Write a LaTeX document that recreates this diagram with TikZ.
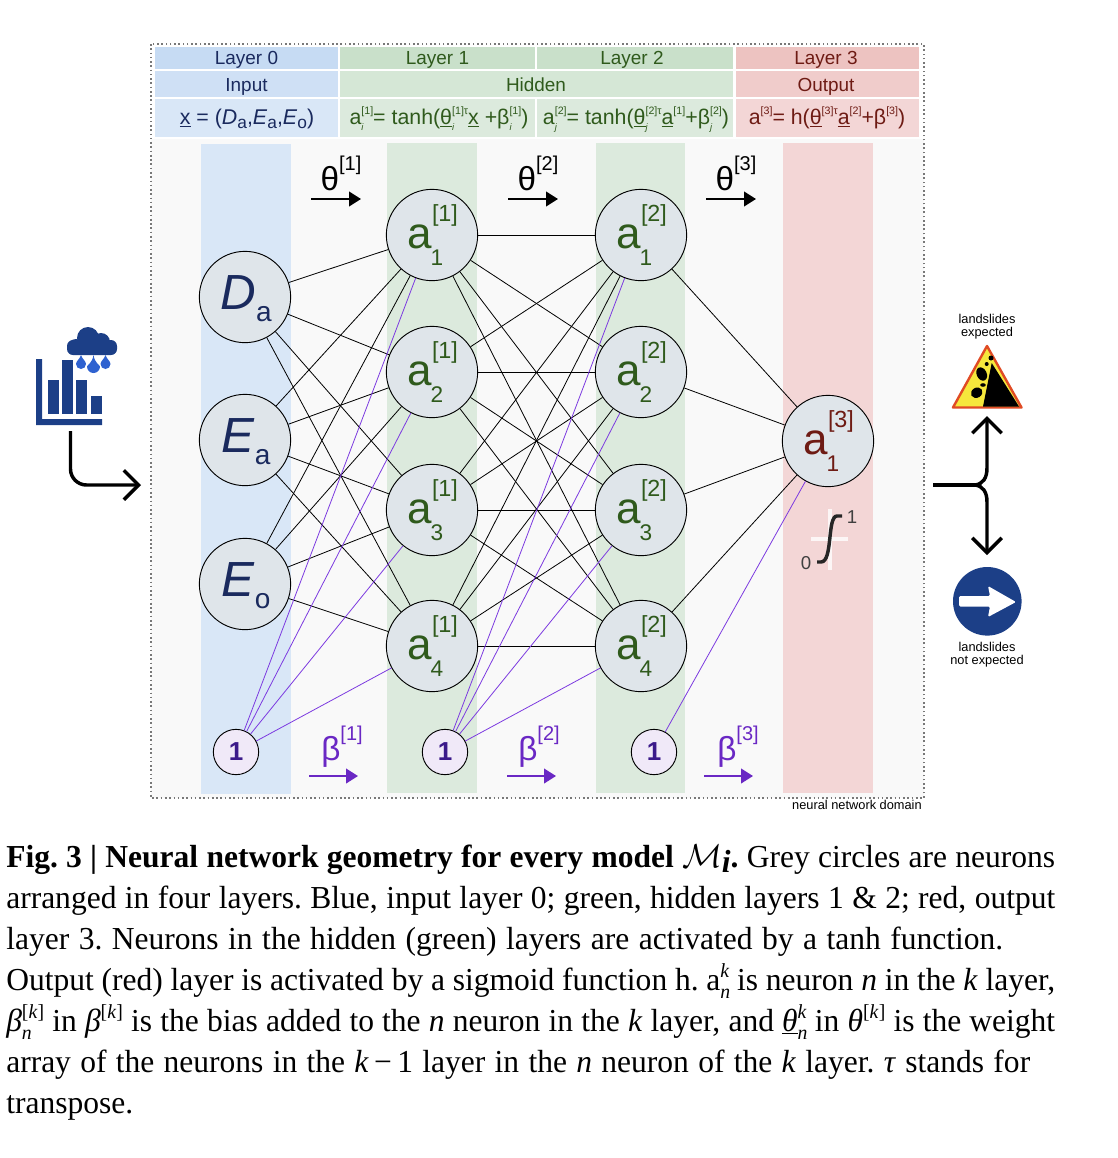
\documentclass[tikz,border=0pt]{standalone}
\usepackage{fontspec}
\setmainfont{Liberation Sans}
\newfontfamily\capfont[FakeStretch=0.985]{Liberation Serif}
\usetikzlibrary{arrows.meta}
\frenchspacing
\definecolor{navy}{HTML}{1A2A5E}
\definecolor{dgreen}{HTML}{2F5A1C}
\definecolor{dred}{HTML}{6E1B14}
\definecolor{purp}{HTML}{7C3AE0}
\definecolor{dpurp}{HTML}{6A28C4}
\definecolor{iconblue}{HTML}{1C3F87}
\definecolor{dropblue}{HTML}{2F62D0}
\definecolor{neurongrey}{HTML}{DFE5EA}
\definecolor{biasfill}{HTML}{F0E9F8}
\definecolor{biastext}{HTML}{3B1A8A}
\definecolor{domainbg}{HTML}{F9F9F9}
\definecolor{framecol}{HTML}{787878}
\definecolor{signyellow}{HTML}{F6E83C}
\definecolor{signred}{HTML}{E04B24}
\definecolor{bA}{HTML}{C6DBF3}\definecolor{bB}{HTML}{CFE0F5}\definecolor{bC}{HTML}{D9E7F7}
\definecolor{gA}{HTML}{C9E0CA}\definecolor{gB}{HTML}{D5E7D6}\definecolor{gC}{HTML}{DCEADD}
\definecolor{rA}{HTML}{EDC3C1}\definecolor{rB}{HTML}{F0CCCB}\definecolor{rC}{HTML}{F3D6D6}
\newcommand\neu[3]{\color{#1}\rule{0pt}{20pt}\smash{\fontsize{33}{33}\selectfont a\rlap{\raisebox{20pt}{\fontsize{17.5}{17.5}\selectfont[#3]}}\rlap{\kern-1pt\raisebox{-13pt}{\fontsize{17}{17}\selectfont #2}}\hphantom{a}}}
\newcommand\inp[2]{\color{navy}\rule{0pt}{18pt}\smash{\kern1.5pt\fontsize{37}{37}\selectfont\textit{#1}\raisebox{-9pt}{\fontsize{21}{21}\selectfont #2}}}
\newcommand\hs[2]{\rlap{\raisebox{7.5pt}{\fontsize{8}{8}\selectfont #1}}\rlap{\raisebox{-5pt}{\fontsize{7}{7}\selectfont\itshape #2}}\hphantom{\fontsize{8}{8}\selectfont #1}}
\newcommand\cs[2]{\rlap{\raisebox{9.5pt}{\fontsize{15}{15}\selectfont #1}}\rlap{\raisebox{-6pt}{\fontsize{15}{15}\selectfont #2}}\hphantom{\fontsize{15}{15}\selectfont #1}}
\newcommand\gk[3]{{\color{#1}\fontsize{25}{25}\selectfont #2\raisebox{15pt}{\fontsize{15}{15}\selectfont[#3]}}}
\tikzset{
  x=0.75pt,y=-0.75pt,
  neuron/.style={circle,draw=black,line width=0.7pt,fill=neurongrey,minimum size=68.5pt,inner sep=0pt},
  bias/.style={circle,draw=black,line width=0.7pt,fill=biasfill,minimum size=34pt,inner sep=0pt,text=biastext,font=\bfseries\fontsize{19.5}{19.5}\selectfont},
  conn/.style={line width=0.6pt,draw=black},
  bconn/.style={line width=0.6pt,draw=purp},
  hdr/.style={anchor=base,inner sep=0pt,font=\fontsize{14.2}{14.2}\selectfont},
  frm/.style={anchor=base,inner sep=0pt,font=\fontsize{16}{16}\selectfont},
  small/.style={anchor=base,inner sep=0pt,font=\fontsize{9.6}{9.6}\selectfont},
  capline/.style={anchor=base west,inner sep=0pt,font=\capfont\fontsize{24}{24}\selectfont},
  bigarrow/.style={line width=2.6pt,draw=black,-{Straight Barb[length=11pt,width=22pt,line width=2.6pt]}},
  wgt/.style={line width=1.5pt,-{Triangle[length=9pt,width=11pt]}},
}
\begin{document}
\begin{tikzpicture}
\useasboundingbox (0,0) rectangle (1118,1158);
% domain background and frame
\fill[domainbg] (151,139) rectangle (924,798);
\draw[framecol,line width=1.1pt,dash pattern=on 1.2pt off 2pt] (151,44) rectangle (924,798);
% header cells
\fill[bA] (155,47) rectangle (338,69);
\fill[gA] (340,47) rectangle (535,69);
\fill[gA] (537,47) rectangle (733,69);
\fill[rA] (736,47) rectangle (919,69);
\fill[bB] (155,71) rectangle (338,97);
\fill[gB] (340,71) rectangle (733,97);
\fill[rB] (736,71) rectangle (919,97);
\fill[bC] (155,99) rectangle (338,137);
\fill[gC] (340,99) rectangle (535,137);
\fill[gC] (537,99) rectangle (733,137);
\fill[rC] (736,99) rectangle (919,137);
\node[hdr,text=navy] (l0) at (246.5,64) {Layer 0};
\node[hdr,text=dgreen] (l1) at (437.5,64) {Layer 1};
\node[hdr,text=dgreen] (l2) at (632,64) {Layer 2};
\node[hdr,text=dred] (l3) at (826,64) {Layer 3};
\node[hdr,text=navy] (inputlab) at (246.5,91) {Input};
\node[hdr,text=dgreen] (hiddenlab) at (536,91) {Hidden};
\node[hdr,text=dred] (outputlab) at (826,91) {Output};
\node[frm,text=navy] (f0) at (247,124) {\underline{x} = (\textit{D}\raisebox{-3pt}{\fontsize{13}{13}\selectfont a},\textit{E}\raisebox{-3pt}{\fontsize{13}{13}\selectfont a},\textit{E}\raisebox{-3pt}{\fontsize{13}{13}\selectfont o})};
\node[frm,text=dgreen] (f1) at (439,124) {a\hs{[1]}{i}= tanh(\underline{θ}\hs{[1]τ}{i}\underline{x} +β\hs{[1]}{i})};
\node[frm,text=dgreen] (f2) at (636,124) {a\hs{[2]}{j}= tanh(\underline{θ}\hs{[2]τ}{j}\underline{a}\hs{[1]}{}+β\hs{[2]}{j})};
\node[frm,text=dred] (f3) at (827,124) {a\hs{[3]}{}= h(\underline{θ}\hs{[3]τ}{}\underline{a}\hs{[2]}{}+β\hs{[3]}{})};
% bands
\fill[bC] (201,144) rectangle (291,794);
\fill[gC] (387,143) rectangle (477,793);
\fill[gC] (596,143) rectangle (685,793);
\fill[rC] (783,143) rectangle (873,793);
% theta and beta labels
\node[anchor=base,inner sep=0pt] (t1) at (341,190) {\gk{black}{θ}{1}};
\node[anchor=base,inner sep=0pt] (t2) at (538,190) {\gk{black}{θ}{2}};
\node[anchor=base,inner sep=0pt] (t3) at (736,190) {\gk{black}{θ}{3}};
\node[anchor=base,inner sep=0pt] (b1) at (342,760) {\gk{dpurp}{β}{1}};
\node[anchor=base,inner sep=0pt] (b2) at (539,760) {\gk{dpurp}{β}{2}};
\node[anchor=base,inner sep=0pt] (b3) at (738,760) {\gk{dpurp}{β}{3}};
\coordinate (ta1) at (311,199); \coordinate (tb1) at (361,199);
\coordinate (ta2) at (508,199); \coordinate (tb2) at (558,199);
\coordinate (ta3) at (706,199); \coordinate (tb3) at (756,199);
\coordinate (ba1) at (309,776); \coordinate (bb1) at (358,776);
\coordinate (ba2) at (507,776); \coordinate (bb2) at (556,776);
\coordinate (ba3) at (704,776); \coordinate (bb3) at (753,776);
\foreach \i in {1,2,3}{
  \draw[wgt,black] (ta\i) -- (tb\i);
  \draw[wgt,dpurp] (ba\i) -- (bb\i);
}
% neurons
\node[neuron] (Da) at (245,297) {\inp{D}{a}};
\node[neuron] (Ea) at (245,440) {\inp{E}{a}};
\node[neuron] (Eo) at (245,584) {\inp{E}{o}};
\node[neuron] (A1) at (432,235) {\neu{dgreen}{1}{1}};
\node[neuron] (A2) at (432,372) {\neu{dgreen}{2}{1}};
\node[neuron] (A3) at (432,510) {\neu{dgreen}{3}{1}};
\node[neuron] (A4) at (432,646) {\neu{dgreen}{4}{1}};
\node[neuron] (B1) at (641,235) {\neu{dgreen}{1}{2}};
\node[neuron] (B2) at (641,372) {\neu{dgreen}{2}{2}};
\node[neuron] (B3) at (641,510) {\neu{dgreen}{3}{2}};
\node[neuron] (B4) at (641,646) {\neu{dgreen}{4}{2}};
\node[neuron] (C1) at (828,441) {\neu{dred}{1}{3}};
\node[bias] (S0) at (236,752) {1};
\node[bias] (S1) at (445,752) {1};
\node[bias] (S2) at (654,752) {1};
% connectors
\foreach \i in {Da,Ea,Eo}{\foreach \j in {1,2,3,4}{\draw[conn] (\i) -- (A\j);}}
\foreach \i in {1,2,3,4}{\foreach \j in {1,2,3,4}{\draw[conn] (A\i) -- (B\j);}}
\foreach \i in {1,2,3,4}{\draw[conn] (B\i) -- (C1);}
\foreach \j in {1,2,3,4}{\draw[bconn] (S0) -- (A\j); \draw[bconn] (S1) -- (B\j);}
\draw[bconn] (S2) -- (C1);
% sigmoid
\draw[white,line width=2.6pt,opacity=.8] (830,509) -- (830,570);
\draw[white,line width=2.6pt,opacity=.8] (811,539) -- (848,539);
\draw[black!85,line width=2.6pt] (817,562) -- (821,562) .. controls (833,562) and (827,516) .. (837,516) -- (842,516);
\node[inner sep=0pt,text=black!75,font=\fontsize{14}{14}\selectfont] (sig0) at (806,563) {0};
\node[inner sep=0pt,text=black!75,font=\fontsize{14}{14}\selectfont] (sig1) at (852,517) {1};
% rain/chart icon
\fill[iconblue] (36,359) -- (42,359) -- (42,419) -- (102,419) -- (102,425) -- (36,425) -- cycle;
\fill[iconblue] (48,380) rectangle (59,414);
\fill[iconblue] (62,360) rectangle (73,414);
\fill[iconblue] (76,380) rectangle (87,414);
\fill[iconblue] (91,396) rectangle (102,414);
\fill[iconblue,rounded corners=4.5pt] (67,340) rectangle (117,355);
\fill[iconblue] (88,338) circle[radius=11];
\fill[iconblue] (101,342) circle[radius=9];
\fill[iconblue] (76,347) circle[radius=8];
\foreach \x/\t/\b/\r in {81/355/369/5,93.5/355/373/6.5,105.5/355/369/5}{
  \fill[dropblue] (\x,\t) .. controls (\x+1,\b-10) and (\x+\r,\b-8) .. (\x+\r,\b-\r) arc[start angle=0,end angle=-180,x radius=\r,y radius=-\r] .. controls (\x-\r,\b-8) and (\x-1,\b-10) .. (\x,\t) -- cycle;
}
% big arrows
\coordinate (inA) at (70.5,431); \coordinate (inB) at (70.5,485); \coordinate (inC) at (141,485);
\draw[bigarrow,rounded corners=12pt] (inA) -- (inB) -- (inC);
\coordinate (oA) at (933,485); \coordinate (oB) at (975,485); \coordinate (oU) at (987,416); \coordinate (oD) at (987,555);
\draw[line width=2.6pt] (oA) -- (oB);
\draw[bigarrow] (oB) .. controls (983,484) and (987,478) .. (987,468) -- (oU);
\draw[bigarrow] (oB) .. controls (983,486) and (987,492) .. (987,502) -- (oD);
% warning sign
\fill[signyellow,draw=signred,line width=1.8pt,line join=round] (987,346) -- (1021.5,407.5) -- (953,407.5) -- cycle;
\fill[black] (991.7,363) -- (1019,406.5) -- (983,406.5) -- cycle;
\fill[black,rotate around={25:(981.7,374)}] (981.7,374) ellipse[x radius=5,y radius=7];
\fill[black,rotate around={30:(976.7,392.7)}] (976.7,392.7) ellipse[x radius=6,y radius=5];
\fill[black] (991,358) circle[radius=2.5];
\fill[black] (983,385) ellipse[x radius=2.8,y radius=1.8];
\fill[black] (986.7,364) circle[radius=2];
% blue sign
\fill[iconblue] (987.3,601.3) circle[radius=34.3];
\fill[white,rounded corners=1pt] (959,596) -- (990,596) -- (988,586) -- (1016,602) -- (988,617) -- (990,606.5) -- (959,606.5) -- cycle;
% small labels
\node[small] (e1) at (987,323) {landslides};
\node[small] (e2) at (987,336) {expected};
\node[small] (n1) at (987,651) {landslides};
\node[small] (n2) at (987,664) {not expected};
\node[small,anchor=base east] (nnd) at (922,809) {neural network domain};
% caption
\node[capline] (c1) at (6,867) {\hbox to 786.75pt{\textbf{Fig. 3 | Neural network geometry for every model $\mathcal{M}$\textit{\raisebox{-4pt}{i}}.} Grey circles are neurons}};
\node[capline] (c2) at (6,908) {\hbox to 786.75pt{arranged in four layers. Blue, input layer 0; green, hidden layers 1 \& 2; red, output}};
\node[capline] (c3) at (6,949) {\hbox to 747.75pt{layer 3. Neurons in the hidden (green) layers are activated by a tanh function.}};
\node[capline] (c4) at (6,990) {\hbox to 786.75pt{Output (red) layer is activated by a sigmoid function h. a\cs{\textit{k}}{\textit{n}} is neuron \textit{n} in the \textit{k} layer,}};
\node[capline] (c5) at (6,1031) {\hbox to 786.75pt{\textit{β}\cs{[\textit{k}]}{\textit{n}} in \textit{β}\raisebox{9.5pt}{\fontsize{15}{15}\selectfont[\textit{k}]} is the bias added to the \textit{n} neuron in the \textit{k} layer, and \underline{\textit{θ}}\cs{\textit{k}}{\textit{n}} in \textit{θ}\raisebox{9.5pt}{\fontsize{15}{15}\selectfont[\textit{k}]} is the weight}};
\node[capline] (c6) at (6,1072) {\hbox to 768pt{array of the neurons in the \textit{k}\,−\,1 layer in the \textit{n} neuron of the \textit{k} layer. \textit{τ} stands for}};
\node[capline] (c7) at (6,1113) {transpose.};
\end{tikzpicture}
\end{document}
